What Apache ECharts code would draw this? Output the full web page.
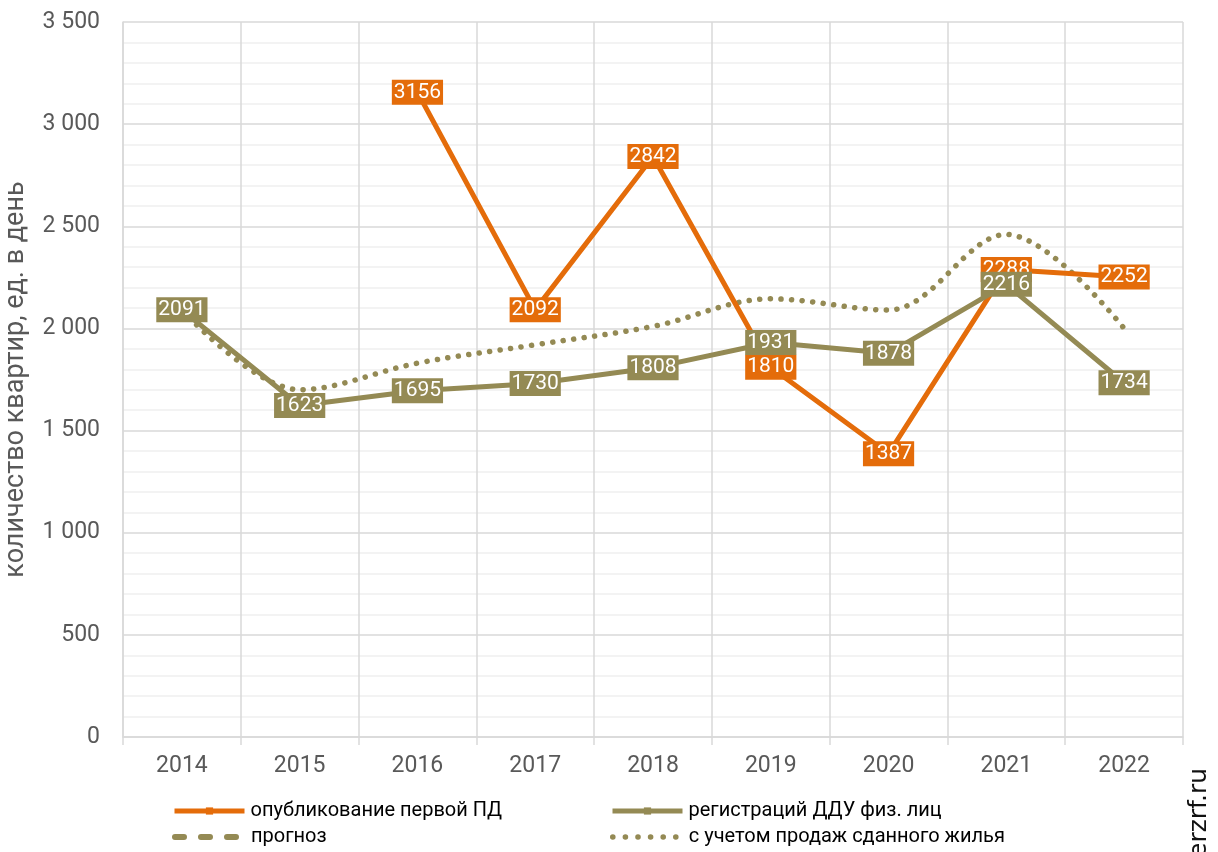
<!DOCTYPE html>
<html>
<head>
<meta charset="utf-8">
<script src="https://cdn.jsdelivr.net/npm/echarts@6/dist/echarts.min.js"></script>
<style>
  html, body { margin: 0; padding: 0; background: #fff; }
  #chart { width: 1218px; height: 852px; }
</style>
</head>
<body>
<div id="chart"></div>
<script>
// Years on the category axis
const years = ['2014', '2015', '2016', '2017', '2018', '2019', '2020', '2021', '2022'];

// Apartments per day, by series
const firstPd = [null, null, 3156, 2092, 2842, 1810, 1387, 2288, 2252];
const dduReg = [2091, 1623, 1695, 1730, 1808, 1931, 1878, 2216, 1734];
const forecast = [];
const withCompleted = [2091, 1700, 1830, 1920, 2010, 2145, 2090, 2460, 2000];

// Series names
const names = [
  'опубликование первой ПД',
  'регистраций ДДУ физ. лиц',
  'прогноз',
  'с учетом продаж сданного жилья'
];

const ORANGE = '#E46C0A';
const OLIVE = '#948A54';
const FONT = 'Roboto';
const DOTS = [0.1, 10.5];
const DASHES = [9, 17];

function fmtThousands(v) {
  return String(v).replace(/\B(?=(\d{3})+(?!\d))/g, ' ');
}

function boxLabel(color) {
  return {
    show: true,
    position: 'inside',
    color: '#fff',
    fontFamily: FONT,
    fontSize: 21,
    backgroundColor: color,
    padding: [1, 2, 0, 2],
    lineHeight: 24
  };
}

// One legend block per entry, laid out in two columns
function legendAt(left, top, item) {
  return {
    orient: 'horizontal',
    left: left,
    top: top,
    itemWidth: 70,
    itemHeight: 9,
    itemGap: 0,
    padding: 0,
    textStyle: { fontFamily: FONT, fontSize: 20, color: '#000', padding: [0, 0, 0, 1] },
    lineStyle: { width: 5 },
    data: [item]
  };
}

const chart = echarts.init(document.getElementById('chart'));
chart.setOption({
  animation: false,
  grid: { left: 123, right: 35, top: 22, bottom: 115, outerBoundsMode: 'none', containLabel: false },
  legend: [
    legendAt(172, 801, { name: names[0] }),
    legendAt(172, 827, { name: names[2], itemStyle: { opacity: 0 },
      lineStyle: { type: DASHES, cap: 'round', width: 6 } }),
    legendAt(610, 801, { name: names[1] }),
    legendAt(610, 827, { name: names[3], itemStyle: { opacity: 0 },
      lineStyle: { type: [0.1, 12.5], cap: 'round', width: 5.5 } })
  ],
  xAxis: {
    type: 'category',
    data: years,
    boundaryGap: true,
    axisLine: { lineStyle: { color: '#d9d9d9', width: 1.5 } },
    axisTick: { show: true, length: 8, lineStyle: { color: '#d9d9d9', width: 1.5 } },
    axisLabel: { color: '#595959', fontFamily: FONT, fontSize: 23, margin: 18 },
    splitLine: { show: true, lineStyle: { color: '#d9d9d9', width: 1.5 } }
  },
  yAxis: {
    type: 'value',
    min: 0,
    max: 3500,
    interval: 500,
    name: 'количество квартир, ед. в день',
    nameLocation: 'middle',
    nameGap: 93,
    nameTextStyle: { color: '#595959', fontFamily: FONT, fontSize: 27 },
    axisLine: { show: true, lineStyle: { color: '#d9d9d9', width: 1.5 } },
    axisTick: { show: false },
    axisLabel: {
      color: '#595959', fontFamily: FONT, fontSize: 23, margin: 23,
      formatter: fmtThousands
    },
    splitLine: { show: true, lineStyle: { color: '#d9d9d9', width: 1.5 } },
    minorTick: { show: false, splitNumber: 5 },
    minorSplitLine: { show: true, lineStyle: { color: '#efefef', width: 1.5 } }
  },
  graphic: [
    {
      type: 'text',
      x: 1212,
      y: 858,
      rotation: Math.PI / 2,
      style: {
        text: 'erzrf.ru',
        fill: '#111',
        font: '25px "DejaVu Sans"',
        textAlign: 'left',
        textVerticalAlign: 'bottom'
      }
    }
  ],
  series: [
    {
      name: names[3],
      type: 'line',
      data: withCompleted,
      smooth: 0.35,
      symbol: 'none',
      color: OLIVE,
      lineStyle: { color: OLIVE, width: 5.5, type: DOTS, cap: 'round' },
      z: 1
    },
    {
      name: names[2],
      type: 'line',
      data: forecast,
      symbol: 'none',
      color: OLIVE,
      lineStyle: { color: OLIVE, width: 5, type: DASHES, cap: 'round' },
      z: 1
    },
    {
      name: names[0],
      type: 'line',
      data: firstPd,
      symbol: 'rect',
      symbolSize: 8,
      color: ORANGE,
      itemStyle: { color: ORANGE },
      lineStyle: { color: ORANGE, width: 5 },
      label: boxLabel(ORANGE),
      z: 2
    },
    {
      name: names[1],
      type: 'line',
      data: dduReg,
      symbol: 'rect',
      symbolSize: 8,
      color: OLIVE,
      itemStyle: { color: OLIVE },
      lineStyle: { color: OLIVE, width: 5 },
      label: boxLabel(OLIVE),
      z: 3
    }
  ]
});
</script>
</body>
</html>
